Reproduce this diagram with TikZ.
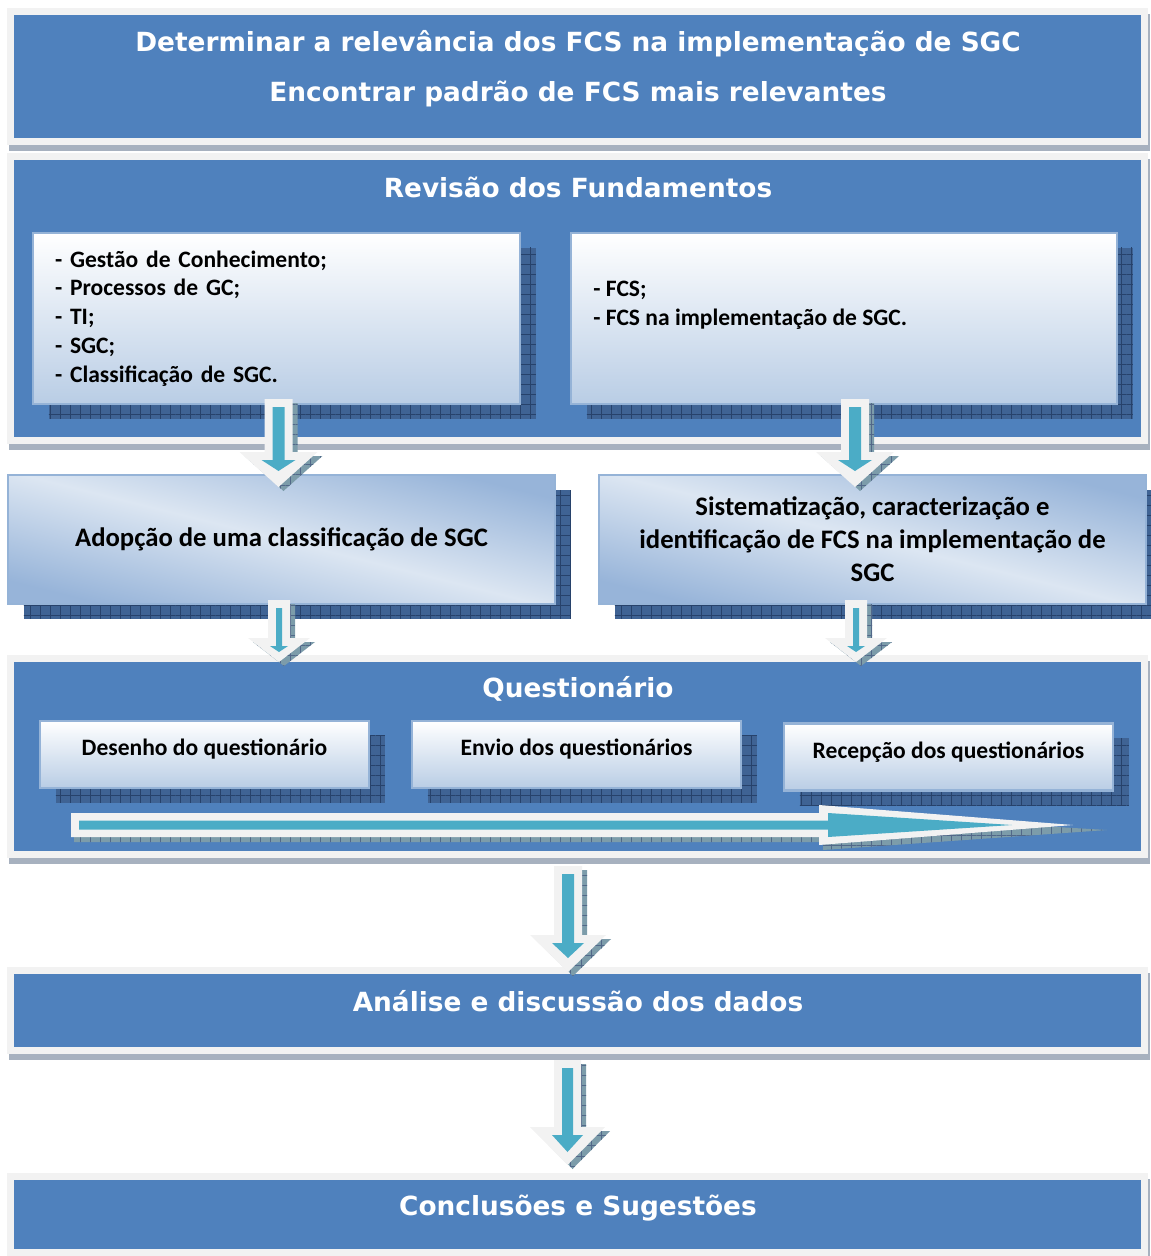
\documentclass[tikz,border=0pt]{standalone}
\usepackage{fontspec}
\setmainfont{Carlito}
\newfontfamily\headfont{DejaVu Sans}
\usetikzlibrary{calc,shadows,patterns.meta}

\definecolor{bandblue}{HTML}{4F81BD}
\definecolor{rimgray}{HTML}{F2F2F2}
\definecolor{stripgray}{HTML}{A7B1BF}
\definecolor{boxblue}{HTML}{B9CDE5}
\definecolor{boxedge}{HTML}{95B3D7}
\definecolor{midlight}{HTML}{DCE6F2}
\definecolor{middark}{HTML}{97B4D9}
\definecolor{shadowblue}{HTML}{3F6394}
\definecolor{gridblue}{HTML}{27426B}
\definecolor{tealarrow}{HTML}{4BACC6}
\definecolor{arrowshade}{HTML}{7C9CAA}

\tikzset{
  band/.style={draw=rimgray, line width=4pt, fill=bandblue, minimum width=22.68cm, inner sep=0pt,
    general shadow={fill=stripgray, draw=stripgray, line width=4pt, shadow xshift=1.1pt, shadow yshift=-3.4pt}},
  bandtitle/.style={text=white, anchor=base, inner sep=0pt, font=\headfont\bfseries\fontsize{15}{18}\selectfont},
  boxshade/.style={general shadow={fill=shadowblue, shadow xshift=9pt, shadow yshift=-8.5pt},
    general shadow={pattern={Hatch[distance=5.7pt,line width=0.4pt]}, pattern color=gridblue, shadow xshift=9pt, shadow yshift=-8.5pt}},
  listbox/.style={boxshade, draw=boxedge, line width=1.2pt, top color=white, bottom color=boxblue, inner sep=0pt},
  midbox/.style={boxshade, draw=boxedge, line width=1.2pt, top color=middark, bottom color=middark, middle color=midlight, shading angle=-14, inner sep=0pt},
  boxtext/.style={font=\bfseries\fontsize{13.4}{16.4}\selectfont},
  midtext/.style={font=\bfseries\fontsize{15.2}{18.7}\selectfont},
  blockshade/.style={fill=arrowshade, postaction={pattern={Hatch[distance=5.7pt,line width=0.4pt]}, pattern color=gridblue!80}},
  blockouter/.style={fill=rimgray},
  blockinner/.style={fill=tealarrow}
}

% block arrow pointing down: top, tip, shaft half, head half, head length, inner tip inset
\newcommand\downblock[6]{%
  \fill[blockshade] ($(#1)+(-#3+5,4)$) -- ($(#1)+(#3+5,4)$) -- ($(#2)+(#3+5,-#5+4)$) -- ($(#2)+(#4+5,-#5+4)$)
    -- ($(#2)+(5,4)$) -- ($(#2)+(-#4+5,-#5+4)$) -- ($(#2)+(-#3+5,-#5+4)$) -- cycle;
  \fill[blockouter] ($(#1)+(-#3,0)$) -- ($(#1)+(#3,0)$) -- ($(#2)+(#3,-#5)$) -- ($(#2)+(#4,-#5)$)
    -- (#2) -- ($(#2)+(-#4,-#5)$) -- ($(#2)+(-#3,-#5)$) -- cycle;
  \fill[blockinner] ($(#1)+(-#3+8,8)$) -- ($(#1)+(#3-8,8)$) -- ($(#2)+(#3-8,-#5+8)$) -- ($(#2)+(#4-22,-#5+8)$)
    -- ($(#2)+(0,-#6)$) -- ($(#2)+(-#4+22,-#5+8)$) -- ($(#2)+(-#3+8,-#5+8)$) -- cycle;
}

\begin{document}
\begin{tikzpicture}[x=0.02cm, y=-0.02cm]
  \useasboundingbox (0,0) rectangle (1150,1256);

  % bands
  \node[band, minimum height=2.6cm] (objetivo) at (577.5,76.5) {};
  \node[band, minimum height=5.68cm] (revisao) at (577.5,298.5) {};
  \node[band, minimum height=3.92cm] (quest) at (577.5,756.5) {};
  \node[band, minimum height=1.6cm] (analise) at (577.5,1010.5) {};
  \node[band, minimum height=1.52cm] (conclusao) at (577.5,1214.5) {};

  \node[bandtitle] (objetivoA) at (578,51.5) {Determinar a relevância dos FCS na implementação de SGC};
  \node[bandtitle] (objetivoB) at (578,101.5) {Encontrar padrão de FCS mais relevantes};
  \node[bandtitle] (revisaoT) at (578,198) {Revisão dos Fundamentos};
  \node[bandtitle] (questT) at (578,697.5) {Questionário};
  \node[bandtitle] (analiseT) at (578,1011) {Análise e discussão dos dados};
  \node[bandtitle] (conclusaoT) at (578,1215) {Conclusões e Sugestões};

  % revisao
  \node[listbox, boxtext, text width=8.86cm, inner xsep=0.44cm, align=left, minimum height=3.42cm] (revL) at (276.5,318.5)
    {- Gestão de Conhecimento;\\- Processos de GC;\\- TI;\\- SGC;\\- Classificação de SGC.};
  \node[listbox, minimum width=10.92cm, minimum height=3.42cm] (revR) at (844,318.5) {};
  \node[boxtext, align=left, anchor=west, inner sep=0pt] (revRtext) at (593,305) {- FCS;\\- FCS na implementação de SGC.};

  % adopcao / sistematizacao
  \node[midbox, midtext, minimum width=10.94cm, minimum height=2.58cm] (adop) at (281.5,539.5)
    {Adopção de uma classificação de SGC};
  \node[midbox, midtext, align=center, minimum width=10.94cm, minimum height=2.58cm] (sist) at (872.5,539.5)
    {Sistematização, caracterização e\\identificação de FCS na implementação de\\SGC};

  % questionario
  \node[listbox, boxtext, minimum width=6.58cm, minimum height=1.34cm, text height=10.4pt, text depth=8.8pt] (desenho) at (204.5,754.5) {Desenho do questionário};
  \node[listbox, boxtext, minimum width=6.58cm, minimum height=1.34cm, text height=10.4pt, text depth=8.8pt] (envio) at (576.5,754.5) {Envio dos questionários};
  \node[listbox, boxtext, minimum width=6.58cm, minimum height=1.34cm, text height=10.4pt, text depth=8.8pt] (recep) at (948.5,757) {Recepção dos questionários};

  % long arrow
  \coordinate (qs) at (71,825);
  \coordinate (qt) at (1073,825);
  \fill[blockshade] ($(qs)+(3,6)$) -- ($(qt)+(-250,6)$) -- ($(qt)+(-250,-12)$) -- ($(qt)+(34,5)$)
    -- ($(qt)+(-250,25)$) -- ($(qt)+(-250,17)$) -- ($(qs)+(3,17)$) -- cycle;
  \fill[blockouter] ($(qs)+(0,-12)$) -- ($(qt)+(-254,-12)$) -- ($(qt)+(-254,-20)$) -- (qt)
    -- ($(qt)+(-254,20)$) -- ($(qt)+(-254,12)$) -- ($(qs)+(0,12)$) -- cycle;
  \fill[blockinner] ($(qs)+(8,-4.5)$) -- ($(qt)+(-245,-4.5)$) -- ($(qt)+(-245,-12)$) -- ($(qt)+(-61,0)$)
    -- ($(qt)+(-245,12)$) -- ($(qt)+(-245,4.5)$) -- ($(qs)+(8,4.5)$) -- cycle;

  % arrows between stages
  \coordinate (a1s) at (278.5,399); \coordinate (a1t) at (278.5,487);
  \coordinate (a2s) at (855,399);   \coordinate (a2t) at (855,487);
  \coordinate (a3s) at (279,600);   \coordinate (a3t) at (279,662);
  \coordinate (a4s) at (856,600);   \coordinate (a4t) at (856,662);
  \coordinate (a5s) at (568,866);   \coordinate (a5t) at (568,972);
  \coordinate (a6s) at (567.5,1060); \coordinate (a6t) at (567.5,1165);
  \downblock{a1s}{a1t}{14}{39}{35}{16}
  \downblock{a2s}{a2t}{14}{39}{35}{16}
  \downblock{a3s}{a3t}{11}{31}{24}{10}
  \downblock{a4s}{a4t}{11}{31}{24}{10}
  \downblock{a5s}{a5t}{14}{38}{37}{14}
  \downblock{a6s}{a6t}{13.5}{37.5}{38}{13}
\end{tikzpicture}
\end{document}
